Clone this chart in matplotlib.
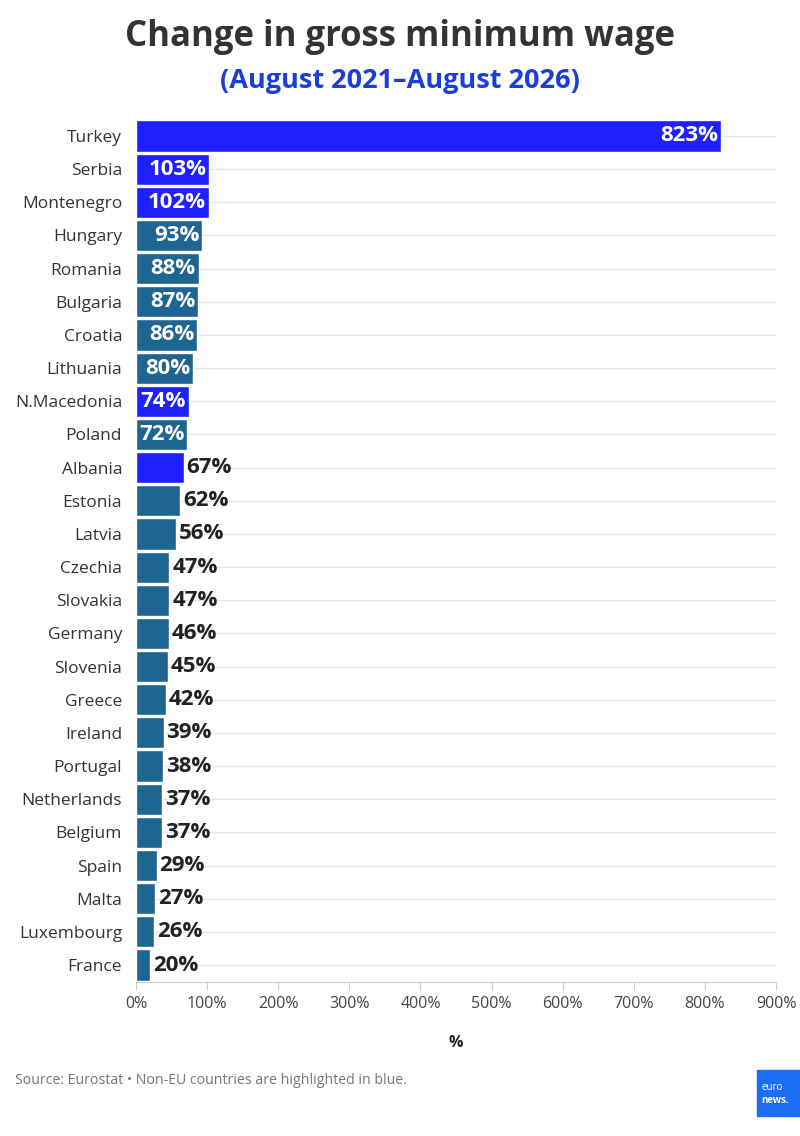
import matplotlib
matplotlib.use("Agg")
import matplotlib.pyplot as plt
from matplotlib.patches import Rectangle

countries = ["Turkey", "Serbia", "Montenegro", "Hungary", "Romania", "Bulgaria", "Croatia",
             "Lithuania", "N.Macedonia", "Poland", "Albania", "Estonia", "Latvia", "Czechia",
             "Slovakia", "Germany", "Slovenia", "Greece", "Ireland", "Portugal", "Netherlands",
             "Belgium", "Spain", "Malta", "Luxembourg", "France"]
values = [823, 103, 102, 93, 88, 87, 86, 80, 74, 72, 67, 62, 56, 47, 47, 46, 45, 42, 39, 38,
          37, 37, 29, 27, 26, 20]
non_eu = ["Turkey", "Serbia", "Montenegro", "N.Macedonia", "Albania"]
xticks = [0, 100, 200, 300, 400, 500, 600, 700, 800, 900]

BLUE = "#1f1fff"
TEAL = "#1f6591"
FONT = ["Open Sans", "DejaVu Sans"]
plt.rcParams["font.family"] = FONT

fig = plt.figure(figsize=(8, 11.36), dpi=100)
ax = fig.add_axes([0.17, 0.1359, 0.80, 0.759])

ypos = list(range(len(countries)))
colors = [BLUE if c in non_eu else TEAL for c in countries]
ax.barh(ypos, values, height=0.94, color=colors, edgecolor="white", linewidth=1, zorder=3)
ax.set_ylim(len(countries) - 0.5, -0.5)
ax.set_xlim(0, 900)

for y in ypos:
    ax.axhline(y, color="#e6e6e6", lw=1, zorder=1)

for y, v in zip(ypos, values):
    if v >= 70:
        ax.text(v - 4, y, f"{v}%", ha="right", va="center", color="white",
                fontsize=16, fontweight="bold", zorder=4)
    else:
        ax.text(v + 4, y, f"{v}%", ha="left", va="center", color="#222222",
                fontsize=16, fontweight="bold", zorder=4)

ax.set_yticks(ypos)
ax.set_yticklabels(countries, fontsize=12.5, color="#333333")
ax.tick_params(axis="y", length=0, pad=10)
ax.set_xticks(xticks)
ax.set_xticklabels([f"{t}%" for t in xticks], fontsize=11.5, color="#444444")
ax.tick_params(axis="x", length=6, color="#cccccc", pad=4)
ax.set_xlabel("%", fontsize=11.5, fontweight="bold", color="#222222", labelpad=17)

for s in ["top", "right", "left"]:
    ax.spines[s].set_visible(False)
ax.spines["bottom"].set_color("#cccccc")

fig.text(0.5, 0.967, "Change in gross minimum wage", ha="center", va="center",
         fontsize=25, fontweight="bold", color="#333333")
fig.text(0.5, 0.929, "(August 2021\u2013August 2026)", ha="center", va="center",
         fontsize=19.5, fontweight="bold", color="#1a3fd8")

fig.text(0.019, 0.049, "Source: Eurostat \u2022 Non-EU countries are highlighted in blue.",
         ha="left", va="center", fontsize=10.2, color="#777777")

logo = Rectangle((0.946, 0.018), 0.06, 0.04, transform=fig.transFigure,
                 color="#1b6ef5", zorder=5)
fig.patches.append(logo)
fig.text(0.952, 0.043, "euro", fontsize=7, color="white", ha="left", va="center", zorder=6)
fig.text(0.952, 0.031, "news.", fontsize=7, color="white", ha="left", va="center",
         fontweight="bold", zorder=6)

fig.savefig("out.png", dpi=100, facecolor="white")
